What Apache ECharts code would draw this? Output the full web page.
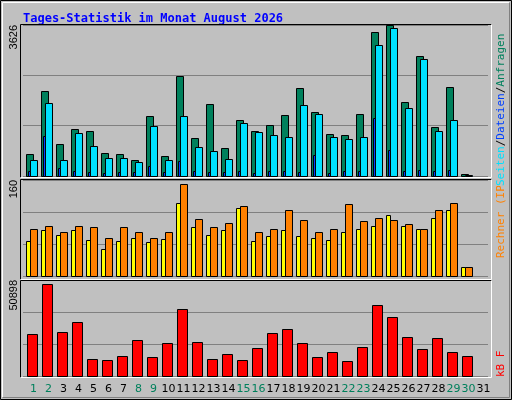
<!DOCTYPE html>
<html><head><meta charset="utf-8">
<script src="https://cdn.jsdelivr.net/npm/echarts@6/dist/echarts.min.js"></script>
<style>html,body{margin:0;padding:0;background:#c0c0c0}#c{width:512px;height:400px}</style>
</head><body><div id="c"></div>
<script>
const days = Array.from({length:31},(_,i)=>String(i+1));
const weekendDays = [1,2,8,9,15,16,22,23,29,30];
const hits  = [518,2047,764,1134,1085,542,518,395,1430,469,2392,912,1726,666,1356,1085,1233,1455,2121,1529,1011,986,1480,3452,3626,1776,2885,1184,2145,58,0];
const files = [395,1751,395,1036,715,444,444,345,1208,395,1430,690,592,419,1282,1060,986,937,1702,1480,937,888,937,3156,3551,1628,2811,1085,1356,33,0];
const pages = [123,962,197,123,99,74,99,99,247,99,370,123,99,99,123,74,123,123,99,493,74,123,123,1381,617,123,148,123,148,0,0];
const visits= [58,76,68,76,60,45,58,63,57,61,121,82,68,76,113,58,66,76,66,63,60,73,79,84,102,84,78,97,110,15,0];
const sites = [78,84,73,84,82,63,81,73,63,73,154,95,82,89,116,73,78,110,94,73,78,120,91,97,94,87,79,110,121,15,0];
const kbytes= [22072,48772,23140,28480,9256,8722,10858,18868,10324,17266,35422,17800,9256,11926,8722,14596,22606,24742,17266,10324,12460,8188,15130,37558,31150,20470,14062,19936,12460,10858,0];
const maxTop=3626, maxMid=160, maxBot=50898;

const chart = echarts.init(document.getElementById('c'));
function bars(off,w,color){
  return function(params,api){
    const v=api.value(1); if(!v) return null;
    const p=api.coord([api.value(0),v]), b=api.coord([api.value(0),0]);
    return {type:'rect',shape:{x:Math.round(p[0]+off)+0.5,y:Math.round(p[1])+0.5,width:w,height:Math.round(b[1])-Math.round(p[1])},
      style:{fill:color,stroke:'#000',lineWidth:1}};
  };
}
function ser(idx,arr,off,w,color){
  return {type:'custom',xAxisIndex:idx,yAxisIndex:idx,renderItem:bars(off,w,color),
    encode:{x:0,y:1},data:arr.map((v,i)=>[i,v]),silent:true};
}
function yax(idx,max){
  return {type:'value',gridIndex:idx,min:0,max:max,interval:max/3,
    splitLine:{lineStyle:{color:'#808080',width:1}},axisLine:{show:false},axisTick:{show:false},
    axisLabel:{showMaxLabel:true,showMinLabel:false,rotate:90,align:'right',verticalAlign:'bottom',margin:4,
      fontFamily:'Liberation Sans',fontSize:11,color:'#000',
      formatter:v=>Math.abs(v-max)<0.5?String(max):''}};
}
function xax(idx,show){
  return {type:'category',gridIndex:idx,data:days,axisLine:{show:false},axisTick:{show:false},
    axisLabel:show?{show:true,interval:0,margin:8,padding:[0,0,0,6],fontFamily:'DejaVu Sans',fontSize:11,
      formatter:v=>weekendDays.includes(+v)?'{g|'+v+'}':'{k|'+v+'}',
      rich:{g:{color:'#00805c',fontSize:11,fontFamily:'DejaVu Sans'},k:{color:'#000',fontSize:11,fontFamily:'DejaVu Sans'}}}:{show:false}};
}
function frame(x1,y1,x2,y2){
  return [
    {type:'polyline',shape:{points:[[x1,y2],[x1,y1],[x2,y1]]},style:{stroke:'#000',lineWidth:1,fill:null},z:10},
    {type:'polyline',shape:{points:[[x2,y1],[x2,y2],[x1,y2]]},style:{stroke:'#fff',lineWidth:1,fill:null},z:10}
  ];
}
const mono='DejaVu Sans Mono';
chart.setOption({
  backgroundColor:'#c0c0c0',
  animation:false,
  title:{text:'Tages-Statistik im Monat August 2026',left:18,top:8,
    textStyle:{fontFamily:mono,fontSize:12,fontWeight:'bold',color:'#0000ff'}},
  grid:[
    {left:23,width:465,top:25,height:151},
    {left:23,width:465,top:180,height:96},
    {left:23,width:465,top:280,height:96}
  ],
  xAxis:[xax(0,false),xax(1,false),xax(2,true)],
  yAxis:[yax(0,maxTop),yax(1,maxMid),yax(2,maxBot)],
  series:[
    ser(0,hits,-5,7,'#00805c'),
    ser(0,files,-1,7,'#00e0ff'),
    ser(0,pages,-3,2,'#0040ff'),
    ser(1,visits,-5,4,'#ffff00'),
    ser(1,sites,-1,7,'#ff8000'),
    ser(2,kbytes,-4,10,'#ff0000')
  ],
  graphic:[
    {type:'rect',shape:{x:0.5,y:0.5,width:511,height:399},style:{fill:null,stroke:'#000',lineWidth:1},z:10},
    {type:'polyline',shape:{points:[[2.5,397.5],[2.5,2.5],[509.5,2.5]]},style:{stroke:'#fff',lineWidth:1,fill:null},z:10},
    {type:'polyline',shape:{points:[[509.5,2.5],[509.5,397.5],[2.5,397.5]]},style:{stroke:'#808080',lineWidth:1,fill:null},z:10},
    ...frame(20.5,24.5,491.5,177.5),
    ...frame(20.5,179.5,491.5,279.5),
    ...frame(20.5,280.5,491.5,377.5),
    {type:'text',x:501,y:258,rotation:Math.PI/2,
      style:{text:'Rechner (IP-Adressen)',fill:'#ff8000',font:'11px "DejaVu Sans Mono"',textAlign:'left',textVerticalAlign:'middle'},z:11},
    {type:'text',x:501,y:186,rotation:Math.PI/2,
      style:{text:'{s|Seiten}{k|/}{d|Dateien}{k|/}{a|Anfragen}',font:'11px "DejaVu Sans Mono"',textAlign:'left',textVerticalAlign:'middle',
        backgroundColor:'#c0c0c0',
        rich:{s:{fill:'#00e0ff',font:'11px "DejaVu Sans Mono"'},k:{fill:'#000',font:'11px "DejaVu Sans Mono"'},
              d:{fill:'#0040ff',font:'11px "DejaVu Sans Mono"'},a:{fill:'#00805c',font:'11px "DejaVu Sans Mono"'}}},z:12},
    {type:'text',x:501,y:377,rotation:Math.PI/2,
      style:{text:'kB F',fill:'#ff0000',font:'11px "DejaVu Sans Mono"',textAlign:'left',textVerticalAlign:'middle'},z:11}
  ]
});
</script></body></html>
